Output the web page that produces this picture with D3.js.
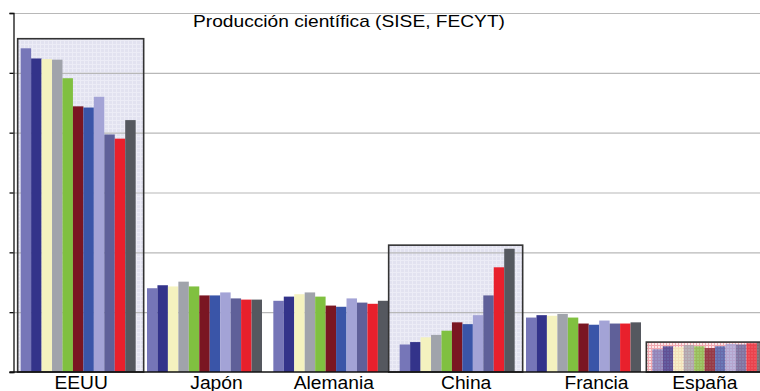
<!DOCTYPE html>
<html><head><meta charset="utf-8">
<script src="https://cdn.jsdelivr.net/npm/d3@7"></script>
<style>html,body{margin:0;padding:0;background:#fff;}svg{display:block;}</style>
</head><body>
<svg id="c" width="760" height="391"></svg>
<script>
const title = "Producción científica (SISE, FECYT)";
const countries = ["EEUU","Japón","Alemania","China","Francia","España"];
const series = ["s1","s2","s3","s4","s5","s6","s7","s8","s9","s10","s11"];
const seriesColors = ["#7676b8","#33338a","#f4f2bf","#a0a3ab","#80c040","#7a1622","#3a55a8","#a3a3d6","#5f6099","#e8202c","#55585f"];
const valEEUU     = [54.1,52.4,52.3,52.2,49.1,44.4,44.2,46.0,39.7,39.0,42.1];
const valJapon    = [14.0,14.5,14.3,15.1,14.3,12.8,12.8,13.3,12.3,12.1,12.1];
const valAlemania = [11.9,12.6,13.0,13.3,12.6,11.1,10.9,12.3,11.6,11.4,11.9];
const valChina    = [4.6,5.0,5.8,6.2,6.9,8.3,8.0,9.5,12.8,17.5,20.6];
const valFrancia  = [9.1,9.5,9.4,9.7,9.1,8.1,7.9,8.6,8.1,8.1,8.3];
const valEspana   = [3.8,4.3,4.2,4.5,4.3,4.0,4.3,4.7,4.6,4.8,5.0];
const yTicks = [0,10,20,30,40,50,60];
const highlightCountries = ["EEUU","China","España"];
const highlightTops = [55.7,21.2,5.0];

const values = [valEEUU,valJapon,valAlemania,valChina,valFrancia,valEspana];
const data = countries.map((c,i)=>({country:c, vals: series.map((s,j)=>({s, v: values[i][j], color: seriesColors[j]}))}));

const svg = d3.select("#c");
const defs = svg.append("defs");
const pb = defs.append("pattern").attr("id","pBlue").attr("patternUnits","userSpaceOnUse").attr("width",4).attr("height",4);
pb.append("rect").attr("width",4).attr("height",4).attr("fill","#e2e2f0");
pb.append("rect").attr("width",4).attr("height",1).attr("fill","#ececf6");
pb.append("rect").attr("width",1).attr("height",4).attr("fill","#ececf6");
const pp = defs.append("pattern").attr("id","pPink").attr("patternUnits","userSpaceOnUse").attr("width",3).attr("height",3);
pp.append("rect").attr("width",3).attr("height",3).attr("fill","#fbe6e8");
pp.append("rect").attr("width",3).attr("height",1).attr("fill","#f0a8b0");
pp.append("rect").attr("width",1).attr("height",3).attr("fill","#f0a8b0");

const y = d3.scaleLinear().domain([0,60]).range([372,13]);
const x0 = d3.scaleBand().domain(countries).range([15,773]).padding(0);
const groupW = 115;
const x1 = d3.scaleBand().domain(series).range([0,groupW]).padding(0);
const gStart = c => x0(c) + (x0.bandwidth()-groupW)/2;
const labelNudge = [3,12,3,9,13,-5];
const boxPadL = {"EEUU":3, "China":11, "España":6};

const hl = highlightCountries.map((c,i)=>({country:c, top: highlightTops[i]}));
const boxX = d => gStart(d.country) - boxPadL[d.country];
const boxW = d => groupW + boxPadL[d.country] + 8;

svg.append("g").selectAll("rect").data(hl).join("rect")
  .attr("x",boxX).attr("y",d=>y(d.top)).attr("width",boxW).attr("height",d=>y(0)-y(d.top))
  .attr("fill",d=>d.country==="España" ? "url(#pPink)" : "url(#pBlue)");

svg.append("g").selectAll("line").data(yTicks.filter(t=>t>0)).join("line")
  .attr("x1",13).attr("x2",760).attr("y1",d=>y(d)+0.5).attr("y2",d=>y(d)+0.5)
  .attr("stroke","#b8b8b8").attr("stroke-width",1.2);

const groups = svg.append("g").selectAll("g").data(data).join("g")
  .attr("transform",d=>`translate(${gStart(d.country)},0)`);
groups.selectAll("rect").data(d=>d.vals).join("rect")
  .attr("x",d=>x1(d.s)).attr("width",x1.bandwidth())
  .attr("y",d=>y(d.v)).attr("height",d=>y(0)-y(d.v))
  .attr("fill",d=>d.color);

svg.append("g").selectAll("rect").data(hl.filter(d=>d.country==="España")).join("rect")
  .attr("x",boxX).attr("y",d=>y(d.top)).attr("width",boxW).attr("height",d=>y(0)-y(d.top))
  .attr("fill","url(#pPink)").attr("opacity",0.25);

svg.append("g").selectAll("rect").data(hl).join("rect")
  .attr("x",boxX).attr("y",d=>y(d.top)).attr("width",boxW).attr("height",d=>y(0)-y(d.top))
  .attr("fill","none").attr("stroke","#333").attr("stroke-width",1.6);

const axis = d3.axisLeft(y).tickValues(yTicks).tickSize(4).tickFormat("");
const ag = svg.append("g").attr("transform","translate(13.5,0)").call(axis);
ag.selectAll("path,line").attr("stroke","#111").attr("stroke-width",1.3);
svg.append("line").attr("x1",9.5).attr("x2",760).attr("y1",y(0)).attr("y2",y(0))
  .attr("stroke","#111").attr("stroke-width",1.3);

const labels = svg.append("g").selectAll("text").data(countries).join("text")
  .attr("x",(c,i)=>x0(c)+x0.bandwidth()/2+labelNudge[i]).attr("y",388.5)
  .attr("text-anchor","middle").attr("font-family","Liberation Sans, Arial, sans-serif")
  .attr("font-size",17.5).attr("fill","#000").text(d=>d);
labels.each(function(){ const w=this.getComputedTextLength(); d3.select(this).attr("textLength",w*1.1).attr("lengthAdjust","spacingAndGlyphs"); });

const t = svg.append("text").attr("x",349).attr("y",27).attr("text-anchor","middle")
  .attr("font-family","Liberation Sans, Arial, sans-serif").attr("font-size",17)
  .attr("fill","#000").text(title);
t.attr("textLength",312).attr("lengthAdjust","spacingAndGlyphs");
</script>
</body></html>
